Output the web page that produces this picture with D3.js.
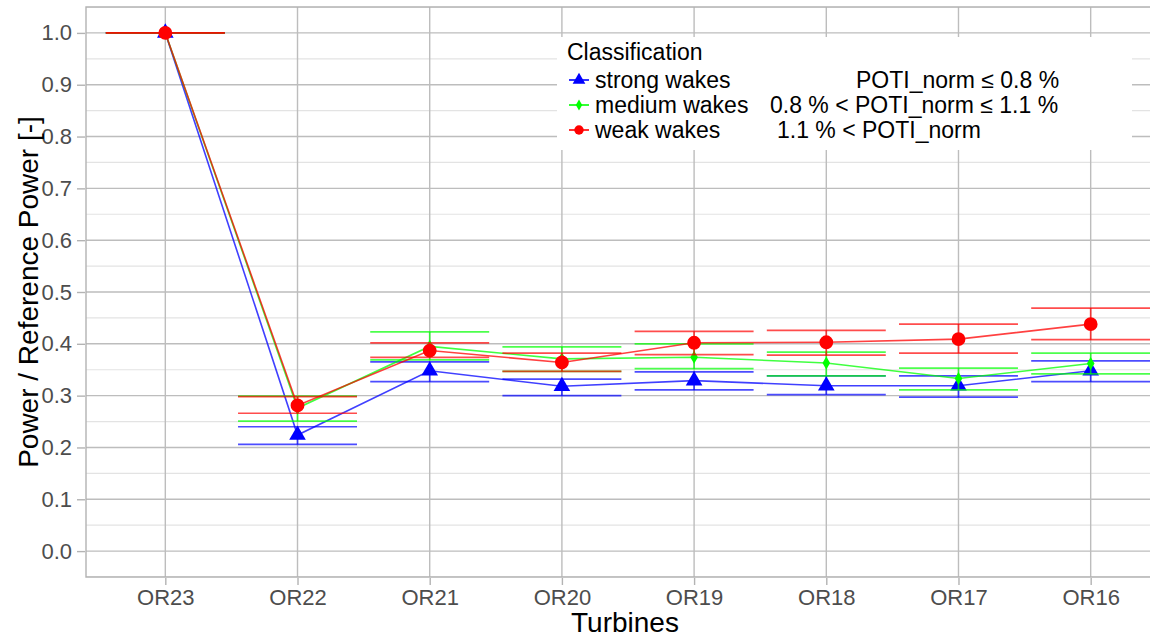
<!DOCTYPE html>
<html>
<head>
<meta charset="utf-8">
<script src="https://cdn.jsdelivr.net/npm/d3@7"></script>
<style>
  body { margin: 0; background: #fff; }
  svg { font-family: "Liberation Sans", Arial, sans-serif; }
</style>
</head>
<body>
<div class="chart"></div>
<script>
// data
var turbines = ["OR23", "OR22", "OR21", "OR20", "OR19", "OR18", "OR17", "OR16"];
var yTicks = [0, 0.1, 0.2, 0.3, 0.4, 0.5, 0.6, 0.7, 0.8, 0.9, 1.0];

var strongMean = [1.0, 0.224, 0.348, 0.318, 0.329, 0.319, 0.319, 0.348];
var strongLow  = [1.0, 0.206, 0.327, 0.300, 0.311, 0.302, 0.297, 0.327];
var strongHigh = [1.0, 0.240, 0.365, 0.332, 0.346, 0.338, 0.338, 0.367];

var mediumMean = [1.0, 0.276, 0.395, 0.371, 0.374, 0.363, 0.333, 0.362];
var mediumLow  = [1.0, 0.251, 0.369, 0.347, 0.352, 0.338, 0.311, 0.342];
var mediumHigh = [1.0, 0.299, 0.423, 0.394, 0.400, 0.384, 0.353, 0.382];

var weakMean = [1.0, 0.281, 0.387, 0.364, 0.402, 0.403, 0.409, 0.438];
var weakLow  = [1.0, 0.266, 0.374, 0.347, 0.379, 0.378, 0.382, 0.408];
var weakHigh = [1.0, 0.298, 0.402, 0.382, 0.424, 0.426, 0.438, 0.469];

var classes = [
	{ name: "strong wakes", cond: "POTI_norm \u2264 0.8 %", mean: strongMean, low: strongLow, high: strongHigh, color: "#0000ff", shape: d3.symbolTriangle },
	{ name: "medium wakes", cond: "0.8 % < POTI_norm \u2264 1.1 %", mean: mediumMean, low: mediumLow, high: mediumHigh, color: "#00ff00", shape: d3.symbolDiamond },
	{ name: "weak wakes", cond: "1.1 % < POTI_norm", mean: weakMean, low: weakLow, high: weakHigh, color: "#ff0000", shape: d3.symbolCircle }
];

var W = 1164, H = 637;
var panel = { left: 86, right: 1150, top: 7, bottom: 577 };

var svg = d3.select('.chart')
	.append('svg')
	.attr('width', W)
	.attr('height', H);

var x = d3.scaleLinear()
	.domain([-0.6, turbines.length - 1 + 0.6])
	.range([86, 1170]);

var y = d3.scaleLinear()
	.domain([-0.05, 1.05])
	.range([panel.bottom, panel.top]);

svg.append('clipPath').attr('id', 'clip')
	.append('rect')
	.attr('x', panel.left).attr('y', panel.top)
	.attr('width', panel.right - panel.left)
	.attr('height', panel.bottom - panel.top);

var grid = svg.append('g').attr('clip-path', 'url(#clip)');

// minor gridlines
grid.selectAll('.minor')
	.data(d3.range(-0.05, 1.06, 0.1))
	.enter().append('line')
	.attr('x1', panel.left).attr('x2', panel.right)
	.attr('y1', function (d) { return y(d); })
	.attr('y2', function (d) { return y(d); })
	.attr('stroke', '#e3e3e3')
	.attr('stroke-width', 1.2);

// major gridlines
grid.selectAll('.majorY')
	.data(yTicks)
	.enter().append('line')
	.attr('x1', panel.left).attr('x2', panel.right)
	.attr('y1', function (d) { return y(d); })
	.attr('y2', function (d) { return y(d); })
	.attr('stroke', '#bdbdbd')
	.attr('stroke-width', 1.4);

grid.selectAll('.majorX')
	.data(turbines)
	.enter().append('line')
	.attr('x1', function (d, i) { return x(i); })
	.attr('x2', function (d, i) { return x(i); })
	.attr('y1', panel.top).attr('y2', panel.bottom)
	.attr('stroke', '#bdbdbd')
	.attr('stroke-width', 1.4);

// panel border (left, top, bottom)
svg.append('path')
	.attr('d', 'M' + panel.right + ',' + panel.top + 'H' + panel.left + 'V' + panel.bottom + 'H' + panel.right)
	.attr('fill', 'none')
	.attr('stroke', '#b3b3b3')
	.attr('stroke-width', 1.4);

// axes
var yAxis = d3.axisLeft(y)
	.tickValues(yTicks)
	.tickFormat(d3.format('.1f'))
	.tickSize(8)
	.tickPadding(5);

var gy = svg.append('g')
	.attr('transform', 'translate(' + (panel.left - 1) + ',0)')
	.call(yAxis);

var xAxis = d3.axisBottom(x)
	.tickValues(d3.range(turbines.length))
	.tickFormat(function (i) { return turbines[i]; })
	.tickSize(7)
	.tickPadding(4);

var gx = svg.append('g')
	.attr('transform', 'translate(0,' + (panel.bottom + 1) + ')')
	.call(xAxis);

[gx, gy].forEach(function (g) {
	g.select('.domain').remove();
	g.selectAll('.tick line').attr('stroke', '#b3b3b3').attr('stroke-width', 1.4);
	g.selectAll('.tick text')
		.attr('fill', '#4d4d4d')
		.style('font-size', '22px');
});

// axis titles
svg.append('text')
	.attr('x', (panel.left + 1164) / 2)
	.attr('y', 632)
	.attr('text-anchor', 'middle')
	.style('font-size', '28px')
	.text('Turbines');

svg.append('text')
	.attr('transform', 'translate(38,' + ((panel.top + panel.bottom) / 2) + ') rotate(-90)')
	.attr('text-anchor', 'middle')
	.style('font-size', '28px')
	.text('Power / Reference Power [-]');

// series
var plot = svg.append('g').attr('clip-path', 'url(#clip)');
var capHalf = 0.45;

classes.forEach(function (c) {
	var g = plot.append('g');
	var idx = d3.range(turbines.length);

	// error bars
	g.selectAll('.cap')
		.data(idx.flatMap(function (i) { return [[i, c.low[i]], [i, c.high[i]]]; }))
		.enter().append('line')
		.attr('x1', function (d) { return x(d[0] - capHalf); })
		.attr('x2', function (d) { return x(d[0] + capHalf); })
		.attr('y1', function (d) { return y(d[1]); })
		.attr('y2', function (d) { return y(d[1]); })
		.attr('stroke', c.color)
		.attr('stroke-opacity', 0.7)
		.attr('stroke-width', 1.7);

	g.selectAll('.stem')
		.data(idx)
		.enter().append('line')
		.attr('x1', function (i) { return x(i); })
		.attr('x2', function (i) { return x(i); })
		.attr('y1', function (i) { return y(c.low[i]); })
		.attr('y2', function (i) { return y(c.high[i]); })
		.attr('stroke', c.color)
		.attr('stroke-opacity', 0.7)
		.attr('stroke-width', 1.7);

	var line = d3.line()
		.x(function (i) { return x(i); })
		.y(function (i) { return y(c.mean[i]); });

	g.append('path')
		.datum(idx)
		.attr('d', line)
		.attr('fill', 'none')
		.attr('stroke', c.color)
		.attr('stroke-opacity', 0.75)
		.attr('stroke-width', 1.6);

	var sym = d3.symbol().type(c.shape)
		.size(c.shape === d3.symbolCircle ? 150 : (c.shape === d3.symbolTriangle ? 120 : 50));

	g.selectAll('.pt')
		.data(idx)
		.enter().append('path')
		.attr('d', sym)
		.attr('transform', function (i) { return 'translate(' + x(i) + ',' + y(c.mean[i]) + ')'; })
		.attr('fill', c.color);
});

// legend
var leg = svg.append('g');
leg.append('rect')
	.attr('x', 557).attr('y', 37)
	.attr('width', 575).attr('height', 113)
	.attr('fill', '#fff');

leg.append('text')
	.attr('x', 567).attr('y', 60)
	.style('font-size', '23px')
	.text('Classification');

var condX = [856, 770, 777];
classes.forEach(function (c, k) {
	var cy = 80 + k * 25;
	leg.append('line')
		.attr('x1', 569).attr('x2', 589)
		.attr('y1', cy).attr('y2', cy)
		.attr('stroke', c.color)
		.attr('stroke-width', 1.6);
	leg.append('path')
		.attr('d', d3.symbol().type(c.shape).size(c.shape === d3.symbolDiamond ? 35 : 70))
		.attr('transform', 'translate(579,' + cy + ')')
		.attr('fill', c.color);
	leg.append('text')
		.attr('x', 595).attr('y', cy + 8)
		.style('font-size', '23px')
		.text(c.name);
	leg.append('text')
		.attr('x', condX[k]).attr('y', cy + 8)
		.style('font-size', '23px')
		.text(c.cond);
});
</script>
</body>
</html>
